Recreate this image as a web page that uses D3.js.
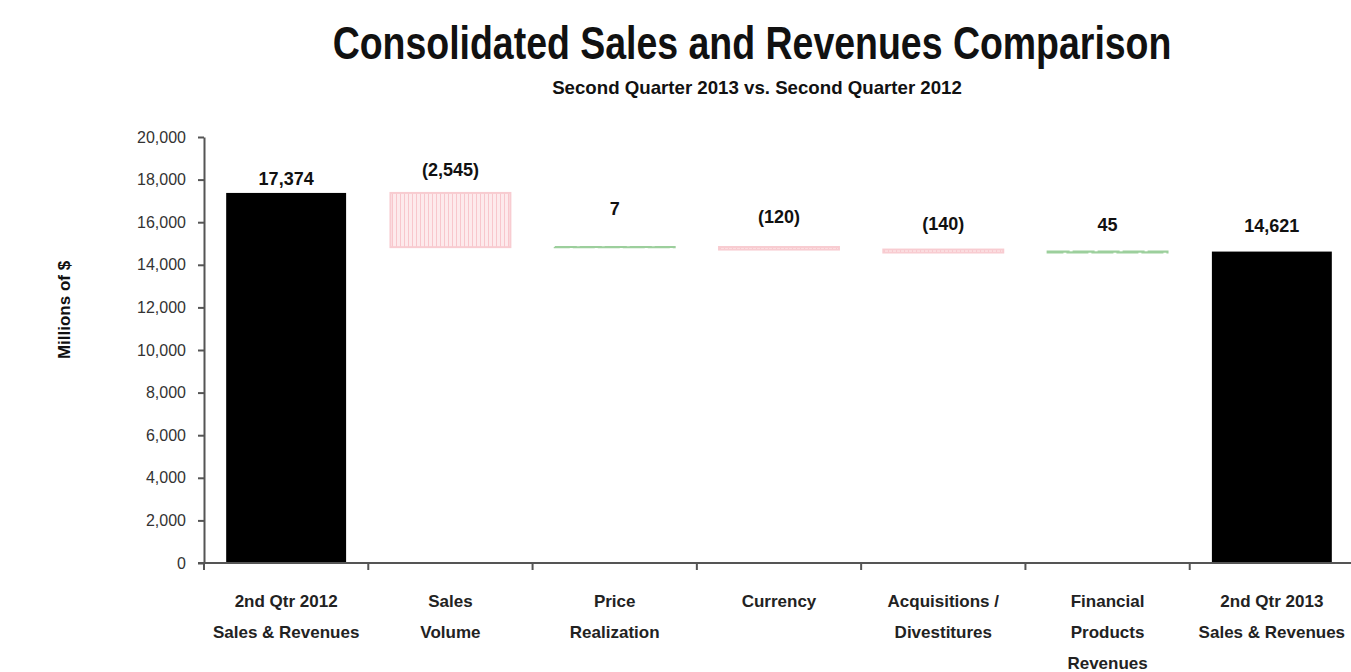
<!DOCTYPE html>
<html>
<head>
<meta charset="utf-8">
<script src="https://cdn.jsdelivr.net/npm/d3@7"></script>
<style>
  body { margin: 0; background: #fff; }
  text { font-family: 'Liberation Sans', Arial, sans-serif; }
</style>
</head>
<body>
<div id="chart"></div>
<script>
// - data
const categories = [
  ['2nd Qtr 2012', 'Sales & Revenues'],
  ['Sales', 'Volume'],
  ['Price', 'Realization'],
  ['Currency'],
  ['Acquisitions /', 'Divestitures'],
  ['Financial', 'Products', 'Revenues'],
  ['2nd Qtr 2013', 'Sales & Revenues'],
]
const amounts = [17374, -2545, 7, -120, -140, 45, 14621]
const kinds = ['total', 'delta', 'delta', 'delta', 'delta', 'delta', 'total']
const valueLabels = ['17,374', '(2,545)', '7', '(120)', '(140)', '45', '14,621']
const yTicks = [0, 2000, 4000, 6000, 8000, 10000, 12000, 14000, 16000, 18000, 20000]

// label distance above each bar top (px)
const labelGap = [8, 17, 32, 24, 20, 21, 20]

const dms = {
  width: 1351,
  height: 672,
  left: 204,
  right: 1354,
  top: 137,
  bottom: 563,
}

const svg = d3.select('#chart')
  .append('svg')
  .attr('width', dms.width)
  .attr('height', dms.height)

// patterns for the change bars
const defs = svg.append('defs')
const down = defs.append('pattern')
  .attr('id', 'down')
  .attr('width', 4)
  .attr('height', 4)
  .attr('patternUnits', 'userSpaceOnUse')
down.append('rect').attr('width', 4).attr('height', 4).attr('fill', '#fdeaec')
down.append('rect').attr('width', 1).attr('height', 4).attr('fill', '#f8c6cc')

// waterfall steps
let running = 0
const steps = amounts.map((v, i) => {
  let y0, y1
  if (kinds[i] === 'total') {
    y0 = 0
    y1 = v
    running = v
  } else {
    y0 = running
    y1 = running + v
    running = y1
  }
  return { cat: categories[i], v, kind: kinds[i], lo: Math.min(y0, y1), hi: Math.max(y0, y1), label: valueLabels[i], gap: labelGap[i] }
})

const xScale = d3.scaleBand()
  .domain(d3.range(categories.length))
  .range([dms.left, dms.right])
  .paddingInner(0.27)
  .paddingOuter(0.135)

const yScale = d3.scaleLinear()
  .domain([0, 20000])
  .range([dms.bottom, dms.top])

// - title (squeezed horizontally to a set width, like the narrow font of the original)
function squeezedText(str, cx, y, size, width) {
  const t = svg.append('text')
    .attr('text-anchor', 'middle')
    .attr('font-size', size)
    .attr('font-weight', 'bold')
    .attr('fill', '#111')
    .text(str)
  const sx = width / t.node().getComputedTextLength()
  t.attr('transform', `translate(${cx},${y}) scale(${sx},1)`)
  return t
}
squeezedText('Consolidated Sales and Revenues Comparison', 752, 59, 46, 839)
squeezedText('Second Quarter 2013 vs. Second Quarter 2012', 757, 94, 18, 410)

// - bars
const bars = svg.append('g')
bars.selectAll('rect')
  .data(steps)
  .join('rect')
  .attr('x', (d, i) => xScale(i))
  .attr('width', xScale.bandwidth())
  .attr('y', d => yScale(d.hi))
  .attr('height', d => yScale(d.lo) - yScale(d.hi))
  .attr('fill', d => d.kind === 'total' ? '#000' : (d.v < 0 ? 'url(#down)' : '#a9d9a9'))
  .attr('stroke', d => d.kind === 'total' ? 'none' : (d.v < 0 ? '#f8ccd1' : '#9ccf9c'))
  .attr('stroke-width', d => d.kind === 'total' ? 0 : 2)
  .attr('stroke-dasharray', d => d.kind === 'delta' && d.v > 0 ? '22,3' : null)

// value labels
bars.selectAll('text')
  .data(steps)
  .join('text')
  .attr('x', (d, i) => xScale(i) + xScale.bandwidth() / 2)
  .attr('y', d => yScale(d.hi) - d.gap)
  .attr('text-anchor', 'middle')
  .attr('font-size', 18)
  .attr('font-weight', 'bold')
  .attr('fill', '#111')
  .text(d => d.label)

// - axes
const yAxis = svg.append('g')
  .attr('transform', `translate(${dms.left},0)`)
  .call(d3.axisLeft(yScale).tickValues(yTicks).tickFormat(d3.format(',')).tickSize(6).tickSizeOuter(0))
yAxis.select('.domain').attr('stroke', '#555').attr('stroke-width', 2)
yAxis.selectAll('.tick line').attr('stroke', '#555').attr('stroke-width', 2)
yAxis.selectAll('.tick text')
  .attr('x', -18)
  .attr('font-size', 16)
  .attr('font-family', 'Liberation Sans, Arial, sans-serif')
  .attr('fill', '#333')

const xAxis = svg.append('g')
  .attr('transform', `translate(0,${dms.bottom})`)
xAxis.append('line')
  .attr('x1', dms.left - 6)
  .attr('x2', dms.right)
  .attr('stroke', '#555')
  .attr('stroke-width', 2)
const step = xScale.step()
xAxis.selectAll('.sep')
  .data(d3.range(categories.length + 1))
  .join('line')
  .attr('class', 'sep')
  .attr('x1', i => dms.left + i * step)
  .attr('x2', i => dms.left + i * step)
  .attr('y1', 0)
  .attr('y2', 7)
  .attr('stroke', '#555')
  .attr('stroke-width', 2)

const catLabels = xAxis.selectAll('.cat')
  .data(steps)
  .join('text')
  .attr('class', 'cat')
  .attr('x', (d, i) => xScale(i) + xScale.bandwidth() / 2)
  .attr('y', 44)
  .attr('text-anchor', 'middle')
  .attr('font-size', 17)
  .attr('font-weight', 'bold')
  .attr('fill', '#222')
catLabels.selectAll('tspan')
  .data(d => d.cat)
  .join('tspan')
  .attr('x', function () { return this.parentNode.getAttribute('x') })
  .attr('dy', (d, i) => i === 0 ? 0 : 31)
  .text(d => d)

// y title
svg.append('text')
  .attr('transform', 'translate(70,310) rotate(-90)')
  .attr('text-anchor', 'middle')
  .attr('font-size', 17)
  .attr('font-weight', 'bold')
  .attr('fill', '#111')
  .text('Millions of $')
</script>
</body>
</html>
